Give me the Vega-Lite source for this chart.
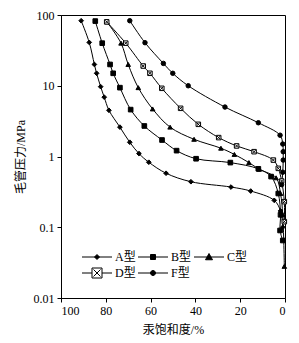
{
  "$schema": "https://vega.github.io/schema/vega-lite/v6.json",
  "width": 224,
  "height": 283,
  "autosize": {"type": "none"},
  "padding": {"left": 61, "top": 15, "right": 14, "bottom": 45},
  "background": "white",
  "config": {
    "view": {"stroke": "black", "strokeWidth": 1},
    "font": "Liberation Serif, Noto Sans CJK SC",
    "axis": {
      "grid": false,
      "domainColor": "black",
      "tickColor": "black",
      "labelColor": "black",
      "titleColor": "black",
      "labelFont": "Liberation Serif, Noto Sans CJK SC",
      "titleFont": "Liberation Serif, Noto Sans CJK SC",
      "labelFontSize": 12,
      "titleFontSize": 12,
      "titleFontWeight": "normal",
      "tickSize": 4
    }
  },
  "data": {
    "values": [
      {"t": "A型", "i": 1, "s": 91, "p": 83},
      {"t": "A型", "i": 2, "s": 87.4, "p": 41},
      {"t": "A型", "i": 3, "s": 85.1, "p": 20},
      {"t": "A型", "i": 4, "s": 84.1, "p": 15},
      {"t": "A型", "i": 5, "s": 82.3, "p": 9.7},
      {"t": "A型", "i": 6, "s": 80.7, "p": 6.9},
      {"t": "A型", "i": 7, "s": 78.6, "p": 4.5},
      {"t": "A型", "i": 8, "s": 73.7, "p": 2.6},
      {"t": "A型", "i": 9, "s": 69.3, "p": 1.59},
      {"t": "A型", "i": 10, "s": 65.2, "p": 1.1},
      {"t": "A型", "i": 11, "s": 60.8, "p": 0.83},
      {"t": "A型", "i": 12, "s": 53.1, "p": 0.58},
      {"t": "A型", "i": 13, "s": 42, "p": 0.44},
      {"t": "A型", "i": 14, "s": 24.1, "p": 0.37},
      {"t": "A型", "i": 15, "s": 15.3, "p": 0.325},
      {"t": "A型", "i": 16, "s": 4.8, "p": 0.24},
      {"t": "A型", "i": 17, "s": 2, "p": 0.17},
      {"t": "A型", "i": 18, "s": 1, "p": 0.1},
      {"t": "B型", "i": 1, "s": 84.7, "p": 82},
      {"t": "B型", "i": 2, "s": 81.6, "p": 40},
      {"t": "B型", "i": 3, "s": 78.1, "p": 20},
      {"t": "B型", "i": 4, "s": 76.7, "p": 15},
      {"t": "B型", "i": 5, "s": 73.7, "p": 9.4},
      {"t": "B型", "i": 6, "s": 68.9, "p": 4.6},
      {"t": "B型", "i": 7, "s": 62.8, "p": 2.7},
      {"t": "B型", "i": 8, "s": 54.9, "p": 1.71},
      {"t": "B型", "i": 9, "s": 48.4, "p": 1.21},
      {"t": "B型", "i": 10, "s": 39.7, "p": 0.93},
      {"t": "B型", "i": 11, "s": 24.4, "p": 0.82},
      {"t": "B型", "i": 12, "s": 11.9, "p": 0.67},
      {"t": "B型", "i": 13, "s": 6.2, "p": 0.52},
      {"t": "B型", "i": 14, "s": 3, "p": 0.3},
      {"t": "B型", "i": 15, "s": 2, "p": 0.15},
      {"t": "B型", "i": 16, "s": 2.2, "p": 0.09},
      {"t": "B型", "i": 17, "s": 1, "p": 0.065},
      {"t": "C型", "i": 1, "s": 79.5, "p": 80},
      {"t": "C型", "i": 2, "s": 73.2, "p": 40},
      {"t": "C型", "i": 3, "s": 70, "p": 20},
      {"t": "C型", "i": 4, "s": 65.5, "p": 9.4},
      {"t": "C型", "i": 5, "s": 59.1, "p": 4.7},
      {"t": "C型", "i": 6, "s": 51.3, "p": 2.6},
      {"t": "C型", "i": 7, "s": 40.6, "p": 1.75},
      {"t": "C型", "i": 8, "s": 28.6, "p": 1.31},
      {"t": "C型", "i": 9, "s": 22.6, "p": 1.07},
      {"t": "C型", "i": 10, "s": 16.1, "p": 0.82},
      {"t": "C型", "i": 11, "s": 11.5, "p": 0.66},
      {"t": "C型", "i": 12, "s": 4, "p": 0.5},
      {"t": "C型", "i": 13, "s": 2, "p": 0.3},
      {"t": "C型", "i": 14, "s": 1, "p": 0.15},
      {"t": "C型", "i": 15, "s": 0.3, "p": 0.028},
      {"t": "D型", "i": 1, "s": 79.6, "p": 80},
      {"t": "D型", "i": 2, "s": 71.1, "p": 40},
      {"t": "D型", "i": 3, "s": 63.3, "p": 19},
      {"t": "D型", "i": 4, "s": 60.3, "p": 15},
      {"t": "D型", "i": 5, "s": 55, "p": 9.2},
      {"t": "D型", "i": 6, "s": 46.6, "p": 4.8},
      {"t": "D型", "i": 7, "s": 38.7, "p": 2.85},
      {"t": "D型", "i": 8, "s": 29.6, "p": 1.85},
      {"t": "D型", "i": 9, "s": 21.6, "p": 1.41},
      {"t": "D型", "i": 10, "s": 13.8, "p": 1.17},
      {"t": "D型", "i": 11, "s": 5.2, "p": 0.89},
      {"t": "D型", "i": 12, "s": 3, "p": 0.68},
      {"t": "D型", "i": 13, "s": 1.5, "p": 0.45},
      {"t": "D型", "i": 14, "s": 0.3, "p": 0.23},
      {"t": "D型", "i": 15, "s": 0.3, "p": 0.12},
      {"t": "F型", "i": 1, "s": 69.3, "p": 83},
      {"t": "F型", "i": 2, "s": 62.5, "p": 40.6},
      {"t": "F型", "i": 3, "s": 54.3, "p": 20.7},
      {"t": "F型", "i": 4, "s": 50.1, "p": 15},
      {"t": "F型", "i": 5, "s": 43.2, "p": 10},
      {"t": "F型", "i": 6, "s": 26.8, "p": 5},
      {"t": "F型", "i": 7, "s": 11.9, "p": 3},
      {"t": "F型", "i": 8, "s": 2.2, "p": 2},
      {"t": "F型", "i": 9, "s": 1, "p": 1.5},
      {"t": "F型", "i": 10, "s": 0.8, "p": 1.17},
      {"t": "F型", "i": 11, "s": 0.8, "p": 0.89},
      {"t": "F型", "i": 12, "s": 1, "p": 0.6},
      {"t": "F型", "i": 13, "s": 1.5, "p": 0.4}
    ]
  },
  "encoding": {
    "x": {
      "field": "s", "type": "quantitative",
      "scale": {"domain": [100, 0], "nice": false, "zero": false},
      "axis": {"values": [100, 80, 60, 40, 20, 0], "format": "d", "title": "汞饱和度/%", "titlePadding": 8, "labelPadding": 3}
    },
    "y": {
      "field": "p", "type": "quantitative",
      "scale": {"type": "log", "domain": [0.01, 100], "nice": false},
      "axis": {"values": [0.01, 0.1, 1, 10, 100], "format": "~g", "title": "毛管压力/MPa", "titlePadding": 6, "labelPadding": 3}
    }
  },
  "layer": [
    {
      "mark": {"type": "line", "color": "black", "strokeWidth": 1, "interpolate": "catmull-rom"},
      "encoding": {
        "detail": {"field": "t", "type": "nominal"},
        "order": {"field": "i", "type": "quantitative"}
      }
    },
    {
      "mark": {"type": "point", "filled": true, "stroke": "black", "strokeWidth": 1, "opacity": 1},
      "encoding": {
        "shape": {"field": "t", "type": "nominal", "legend": null,
          "scale": {"domain": ["A型", "B型", "C型", "D型", "F型"],
            "range": ["diamond", "square", "triangle-up", "M-1,-1H1V1H-1ZM-0.7,-0.7L0.7,0.7M0.7,-0.7L-0.7,0.7", "circle"]}},
        "fill": {"field": "t", "type": "nominal", "legend": null,
          "scale": {"domain": ["A型", "B型", "C型", "D型", "F型"], "range": ["black", "black", "black", "white", "black"]}},
        "size": {"field": "t", "type": "nominal", "legend": null,
          "scale": {"domain": ["A型", "B型", "C型", "D型", "F型"], "range": [22, 20, 40, 115, 18]}}
      }
    },
    {
      "transform": [{"filter": "datum.s > 1000"}],
      "mark": {"type": "point", "filled": true, "stroke": "black", "strokeWidth": 1, "opacity": 1},
      "encoding": {
        "shape": {"field": "t", "type": "nominal",
          "scale": {"domain": ["A型", "B型", "C型", "D型", "F型"],
            "range": [
              "M-3,0H3M0,-0.5L0.5,0L0,0.5L-0.5,0Z",
              "M-3,0H3M-0.5,-0.5H0.5V0.5H-0.5Z",
              "M-3,0H3M0,-0.7L0.7,0.55H-0.7Z",
              "M-3,0H-1M1,0H3M-1,-1H1V1H-1ZM-0.7,-0.7L0.7,0.7M0.7,-0.7L-0.7,0.7",
              "M-3,0H3M0.5,0A0.5,0.5,0,1,1,-0.5,0A0.5,0.5,0,1,1,0.5,0Z"
            ]},
          "legend": {"orient": "none", "legendX": 30, "legendY": 236, "direction": "horizontal", "columns": 3, "title": null,
            "labelFontSize": 12, "labelFont": "Liberation Serif, Noto Sans CJK SC", "labelColor": "black",
            "symbolStrokeColor": "black", "symbolStrokeWidth": 1, "symbolOpacity": 1,
            "labelOffset": 12, "columnPadding": 0, "rowPadding": 3}},
        "fill": {"field": "t", "type": "nominal",
          "scale": {"domain": ["A型", "B型", "C型", "D型", "F型"], "range": ["black", "black", "black", "white", "black"]}},
        "size": {"field": "t", "type": "nominal",
          "scale": {"domain": ["A型", "B型", "C型", "D型", "F型"], "range": [100, 100, 100, 100, 100]}}
      }
    }
  ],
  "resolve": {"scale": {"shape": "independent", "fill": "independent", "size": "independent"}}
}
